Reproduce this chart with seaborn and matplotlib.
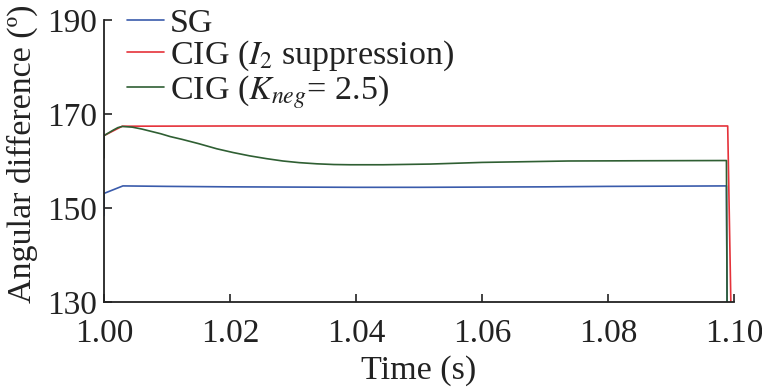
import matplotlib
matplotlib.use("Agg")
import matplotlib.pyplot as plt
import seaborn as sns
import pandas as pd

sns.set_theme(style="ticks")
plt.rcParams['font.family'] = ['Liberation Serif', 'DejaVu Serif']
plt.rcParams['mathtext.fontset'] = 'stix'

# --- data ---
sg_time = [1.0, 1.0, 1.0015, 1.0030, 1.01, 1.02, 1.03, 1.04, 1.05, 1.06, 1.07, 1.08, 1.09, 1.0988, 1.0989]
sg_angle = [148.4, 153.1, 153.9, 154.7, 154.6, 154.5, 154.45, 154.4, 154.4, 154.45, 154.5, 154.6, 154.65, 154.7, 130.0]

i2_time = [1.0, 1.0, 1.0029, 1.02, 1.04, 1.06, 1.08, 1.0990, 1.0995]
i2_angle = [160.7, 165.4, 167.4, 167.45, 167.45, 167.45, 167.45, 167.45, 130.0]

kneg_time = [1.0, 1.0, 1.0015, 1.0022, 1.0029, 1.0045, 1.006, 1.0072, 1.009, 1.0105,
             1.0124, 1.015, 1.0179, 1.0205, 1.0231, 1.0258, 1.0284, 1.031, 1.0338,
             1.0365, 1.0391, 1.0443, 1.0518, 1.06, 1.0737, 1.085, 1.0988, 1.0989]
kneg_angle = [160.7, 165.4, 166.6, 167.1, 167.35, 167.2, 166.8, 166.4, 165.8, 165.2,
              164.6, 163.7, 162.6, 161.8, 161.1, 160.5, 160.0, 159.65, 159.4,
              159.25, 159.2, 159.2, 159.35, 159.7, 160.0, 160.05, 160.1, 130.0]

series_names = ["SG", "CIG ($I_2$ suppression)", "CIG ($K_{neg}$= 2.5)"]
colors = ["#3a5bab", "#e5323a", "#2f5f33"]

x_ticks = [1.00, 1.02, 1.04, 1.06, 1.08, 1.10]
y_ticks = [130, 150, 170, 190]

frames = []
for name, t, a in zip(series_names, [sg_time, i2_time, kneg_time], [sg_angle, i2_angle, kneg_angle]):
    frames.append(pd.DataFrame({"time": t, "angle": a, "series": name}))
df = pd.concat(frames, ignore_index=True)

fig = plt.figure(figsize=(7.62, 3.90), dpi=100)
ax = fig.add_axes([104 / 762, 1 - 302 / 390, 630 / 762, 282 / 390])

sns.lineplot(data=df, x="time", y="angle", hue="series", hue_order=series_names,
             palette=colors, estimator=None, sort=False, units="series",
             linewidth=1.2, ax=ax)

ax.set_xlim(1.0, 1.10)
ax.set_ylim(130, 190)
ax.set_xticks(x_ticks)
ax.set_xticklabels([f"{v:.2f}" for v in x_ticks])
ax.set_yticks(y_ticks)
ax.set_yticklabels([str(v) for v in y_ticks])
for s in ["top", "right"]:
    ax.spines[s].set_visible(False)
for s in ["left", "bottom"]:
    ax.spines[s].set_color("#222222")
    ax.spines[s].set_linewidth(1.3)
ax.tick_params(direction="in", length=6, width=1.2, color="#222222",
               labelsize=24, labelcolor="#222222")
ax.tick_params(axis="x", pad=12)
ax.tick_params(axis="y", pad=5)
ax.set_xlabel("Time (s)", fontsize=24.5, color="#222222", labelpad=4)
ax.set_ylabel("Angular difference (º)", fontsize=24.5, color="#222222")
ax.yaxis.set_label_coords(-0.104, 0.525)
ax.grid(False)

handles, labels = ax.get_legend_handles_labels()
ax.legend(handles, labels, loc="upper left", bbox_to_anchor=(127 / 762, 1 - 8 / 390),
          bbox_transform=fig.transFigure, frameon=False, fontsize=24.5,
          handlelength=1.1, handletextpad=0.15, labelspacing=0.0, borderpad=0.0,
          borderaxespad=0.0)
for text in ax.get_legend().get_texts():
    text.set_color("#222222")

fig.savefig("out.png", dpi=100)
